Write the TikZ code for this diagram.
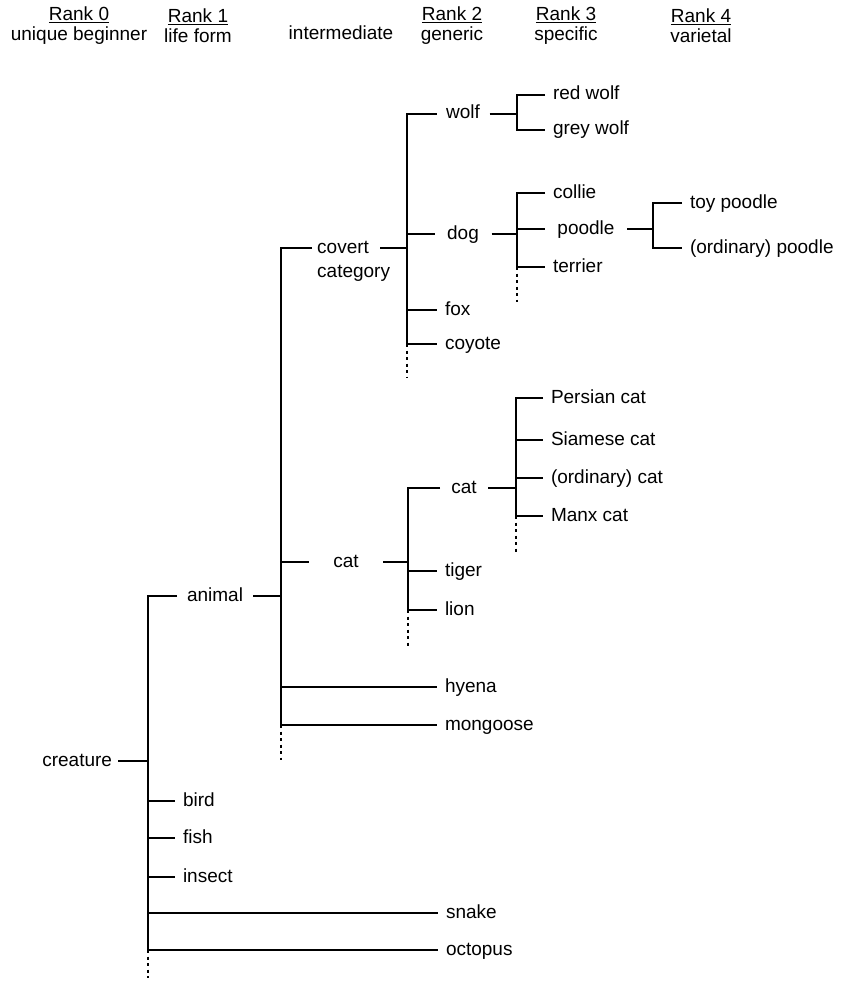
\documentclass[tikz,border=0pt]{standalone}
\usepackage{fontspec}
\setmainfont{Liberation Sans}
\usepackage{tikz}
\usetikzlibrary{positioning}
\tikzstyle{word} = [font=\fontsize{19}{21}\selectfont, text height=10pt, text depth=0pt, inner ysep=0pt, outer sep=0pt]
\tikzstyle{leaf} = [word, anchor=west, inner xsep=8pt]
\tikzstyle{mid} = [word, inner xsep=0pt]
\tikzstyle{head} = [font=\fontsize{19}{20}\selectfont, align=center]
\tikzstyle{branch} = [line width=1.2pt]
\tikzstyle{tail} = [line width=1.2pt, dash pattern=on 3pt off 3.5pt]

\begin{document}
\begin{tikzpicture}[x=1pt, y=-1pt]
            \useasboundingbox (0,0) rectangle (843,987);
            \node[head] (rank0) at (79,26) {\underline{Rank 0}\\unique beginner};
            \node[head] (rank1) at (198,26) {\underline{Rank 1}\\life form};
            \node[word] (inter) at (341,35) {intermediate};
            \node[head] (rank2) at (452,26) {\underline{Rank 2}\\generic};
            \node[head] (rank3) at (566,26) {\underline{Rank 3}\\specific};
            \node[head] (rank4) at (701,26) {\underline{Rank 4}\\varietal};

            \node[word, anchor=east, inner xsep=6pt] (creature) at (118,761) {creature};
            \node[mid, minimum width=76pt] (animal) at (215,596) {animal};
            \node[leaf] (bird) at (175,801) {bird};
            \node[leaf] (fish) at (175,838) {fish};
            \node[leaf] (insect) at (175,877) {insect};
            \node[leaf] (snake) at (438,913) {snake};
            \node[leaf] (octopus) at (438,950) {octopus};

            \node[font=\fontsize{19}{24}\selectfont, align=left, anchor=base west, inner sep=0pt] (covert) at (317,277) {covert\\category};
            \node[mid, minimum width=74pt] (catmid) at (346,562) {cat};
            \node[leaf] (hyena) at (437,687) {hyena};
            \node[leaf] (mongoose) at (437,725) {mongoose};

            \node[mid, minimum width=53pt] (wolf) at (463,114) {wolf};
            \node[mid, minimum width=57pt] (dog) at (463,234) {dog};
            \node[leaf] (fox) at (437,310) {fox};
            \node[leaf] (coyote) at (437,344) {coyote};

            \node[leaf] (redwolf) at (545,95) {red wolf};
            \node[leaf] (greywolf) at (545,130) {grey wolf};
            \node[leaf] (collie) at (545,193) {collie};
            \node[mid, minimum width=82pt] (poodle) at (586,229) {poodle};
            \node[leaf] (terrier) at (545,267) {terrier};
            \node[leaf] (toypoodle) at (682,203) {toy poodle};
            \node[leaf] (ordpoodle) at (682,248) {(ordinary) poodle};

            \node[mid, minimum width=48pt] (catgen) at (464,488) {cat};
            \node[leaf] (tiger) at (437,571) {tiger};
            \node[leaf] (lion) at (437,610) {lion};
            \node[leaf] (persian) at (543,398) {Persian cat};
            \node[leaf] (siamese) at (543,440) {Siamese cat};
            \node[leaf] (ordcat) at (543,478) {(ordinary) cat};
            \node[leaf] (manx) at (543,516) {Manx cat};

            \coordinate (covL) at ([xshift=-5pt, yshift=29pt]covert.base west);
            \coordinate (covR) at ([xshift=63pt, yshift=29pt]covert.base west);
            \coordinate (barcreature) at (148,0);
            \coordinate (baranimal) at (281,0);
            \coordinate (barcovert) at (407,0);
            \coordinate (barwolf) at (517,0);
            \coordinate (bardog) at (517,0);
            \coordinate (barpoodle) at (653,0);
            \coordinate (barcatmid) at (408,0);
            \coordinate (barcatgen) at (516,0);
            \coordinate (endcreature) at (148,978);
            \coordinate (endanimal) at (281,760);
            \coordinate (endcovert) at (407,378);
            \coordinate (enddog) at (517,302);
            \coordinate (endcatmid) at (408,647);
            \coordinate (endcatgen) at (516,553);

            \draw[branch] (creature.east) -- (barcreature |- creature);
            \draw[branch] (animal.west) -| (barcreature |- octopus) -- (octopus.west);
            \draw[branch] (barcreature |- bird) -- (bird.west);
            \draw[branch] (barcreature |- fish) -- (fish.west);
            \draw[branch] (barcreature |- insect) -- (insect.west);
            \draw[branch] (barcreature |- snake) -- (snake.west);
            \draw[tail] (barcreature |- octopus) -- (endcreature);

            \draw[branch] (animal.east) -- (baranimal |- animal);
            \draw[branch] (covL) -| (baranimal |- mongoose) -- (mongoose.west);
            \draw[branch] (baranimal |- catmid) -- (catmid.west);
            \draw[branch] (baranimal |- hyena) -- (hyena.west);
            \draw[tail] (baranimal |- mongoose) -- (endanimal);

            \draw[branch] (covR) -- (barcovert |- covR);
            \draw[branch] (wolf.west) -| (barcovert |- coyote) -- (coyote.west);
            \draw[branch] (barcovert |- dog) -- (dog.west);
            \draw[branch] (barcovert |- fox) -- (fox.west);
            \draw[tail] (barcovert |- coyote) -- (endcovert);

            \draw[branch] (wolf.east) -- (barwolf |- wolf);
            \draw[branch] (redwolf.west) -| (barwolf |- greywolf) -- (greywolf.west);

            \draw[branch] (dog.east) -- (bardog |- dog);
            \draw[branch] (collie.west) -| (bardog |- terrier) -- (terrier.west);
            \draw[branch] (bardog |- poodle) -- (poodle.west);
            \draw[tail] (bardog |- terrier) -- (enddog);

            \draw[branch] (poodle.east) -- (barpoodle |- poodle);
            \draw[branch] (toypoodle.west) -| (barpoodle |- ordpoodle) -- (ordpoodle.west);

            \draw[branch] (catmid.east) -- (barcatmid |- catmid);
            \draw[branch] (catgen.west) -| (barcatmid |- lion) -- (lion.west);
            \draw[branch] (barcatmid |- tiger) -- (tiger.west);
            \draw[tail] (barcatmid |- lion) -- (endcatmid);

            \draw[branch] (catgen.east) -- (barcatgen |- catgen);
            \draw[branch] (persian.west) -| (barcatgen |- manx) -- (manx.west);
            \draw[branch] (barcatgen |- siamese) -- (siamese.west);
            \draw[branch] (barcatgen |- ordcat) -- (ordcat.west);
            \draw[tail] (barcatgen |- manx) -- (endcatgen);
        \end{tikzpicture}
\end{document}
